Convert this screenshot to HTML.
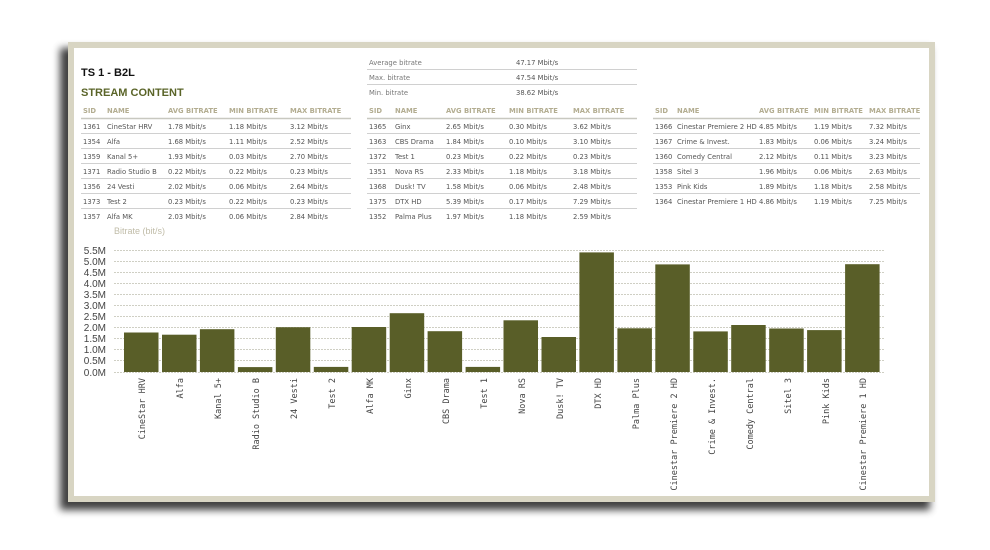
<!DOCTYPE html>
<html><head><meta charset="utf-8"><style>
html,body{margin:0;padding:0;background:#fff;}
svg{display:block;}
.t{font-family:"DejaVu Sans","Liberation Sans",sans-serif;font-size:6.8px;fill:#555;}
.h{font-family:"DejaVu Sans","Liberation Sans",sans-serif;font-size:6.8px;fill:#b3ad91;font-weight:bold;}
.s{font-family:"DejaVu Sans","Liberation Sans",sans-serif;font-size:6.8px;fill:#777;}
.y{font-family:"Liberation Sans",sans-serif;font-size:10px;fill:#444;}
.x{font-family:"DejaVu Sans Mono","Liberation Mono",monospace;font-size:8.5px;fill:#444;}
</style></head><body>
<svg width="990" height="550" viewBox="0 0 990 550" xmlns="http://www.w3.org/2000/svg">
<defs>
<filter id="sh" x="-10%" y="-10%" width="120%" height="130%"><feGaussianBlur stdDeviation="4"/></filter>
</defs>
<rect x="60" y="48" width="870" height="462" fill="#000" opacity="0.75" filter="url(#sh)"/>
<rect x="68" y="42" width="867" height="460" fill="#d8d5c3"/>
<rect x="74" y="48" width="855" height="448" fill="#fff"/>

<text x="81" y="76" font-family="Liberation Sans,sans-serif" font-size="11" font-weight="bold" fill="#111">TS 1 - B2L</text>
<text x="81" y="96" font-family="Liberation Sans,sans-serif" font-size="11" font-weight="bold" fill="#5a6428">STREAM CONTENT</text>

<g stroke="#d0d0d0" stroke-width="1">
<line x1="81" y1="118.5" x2="351" y2="118.5" stroke="#c8c8c0" stroke-width="1.5"/>
<line x1="81" y1="133.5" x2="351" y2="133.5"/><line x1="81" y1="148.5" x2="351" y2="148.5"/><line x1="81" y1="163.5" x2="351" y2="163.5"/><line x1="81" y1="178.5" x2="351" y2="178.5"/><line x1="81" y1="193.5" x2="351" y2="193.5"/><line x1="81" y1="208.5" x2="351" y2="208.5"/>
<line x1="367" y1="69.5" x2="637" y2="69.5"/><line x1="367" y1="84.5" x2="637" y2="84.5"/>
<line x1="367" y1="118.5" x2="637" y2="118.5" stroke="#c8c8c0" stroke-width="1.5"/>
<line x1="367" y1="133.5" x2="637" y2="133.5"/><line x1="367" y1="148.5" x2="637" y2="148.5"/><line x1="367" y1="163.5" x2="637" y2="163.5"/><line x1="367" y1="178.5" x2="637" y2="178.5"/><line x1="367" y1="193.5" x2="637" y2="193.5"/><line x1="367" y1="208.5" x2="637" y2="208.5"/>
<line x1="653" y1="118.5" x2="920" y2="118.5" stroke="#c8c8c0" stroke-width="1.5"/>
<line x1="653" y1="133.5" x2="920" y2="133.5"/><line x1="653" y1="148.5" x2="920" y2="148.5"/><line x1="653" y1="163.5" x2="920" y2="163.5"/><line x1="653" y1="178.5" x2="920" y2="178.5"/><line x1="653" y1="193.5" x2="920" y2="193.5"/>
</g>

<!-- table 1 -->
<g class="h"><text x="83" y="113">SID</text><text x="107" y="113">NAME</text><text x="168" y="113">AVG BITRATE</text><text x="229" y="113">MIN BITRATE</text><text x="290" y="113">MAX BITRATE</text></g>
<g class="t">
<text x="83" y="129">1361</text><text x="107" y="129">CineStar HRV</text><text x="168" y="129">1.78 Mbit/s</text><text x="229" y="129">1.18 Mbit/s</text><text x="290" y="129">3.12 Mbit/s</text>
<text x="83" y="144">1354</text><text x="107" y="144">Alfa</text><text x="168" y="144">1.68 Mbit/s</text><text x="229" y="144">1.11 Mbit/s</text><text x="290" y="144">2.52 Mbit/s</text>
<text x="83" y="159">1359</text><text x="107" y="159">Kanal 5+</text><text x="168" y="159">1.93 Mbit/s</text><text x="229" y="159">0.03 Mbit/s</text><text x="290" y="159">2.70 Mbit/s</text>
<text x="83" y="174">1371</text><text x="107" y="174">Radio Studio B</text><text x="168" y="174">0.22 Mbit/s</text><text x="229" y="174">0.22 Mbit/s</text><text x="290" y="174">0.23 Mbit/s</text>
<text x="83" y="189">1356</text><text x="107" y="189">24 Vesti</text><text x="168" y="189">2.02 Mbit/s</text><text x="229" y="189">0.06 Mbit/s</text><text x="290" y="189">2.64 Mbit/s</text>
<text x="83" y="204">1373</text><text x="107" y="204">Test 2</text><text x="168" y="204">0.23 Mbit/s</text><text x="229" y="204">0.22 Mbit/s</text><text x="290" y="204">0.23 Mbit/s</text>
<text x="83" y="219">1357</text><text x="107" y="219">Alfa MK</text><text x="168" y="219">2.03 Mbit/s</text><text x="229" y="219">0.06 Mbit/s</text><text x="290" y="219">2.84 Mbit/s</text>
</g>

<!-- summary -->
<g class="s"><text x="369" y="65">Average bitrate</text><text x="369" y="80">Max. bitrate</text><text x="369" y="95">Min. bitrate</text></g>
<g class="t"><text x="516" y="65">47.17 Mbit/s</text><text x="516" y="80">47.54 Mbit/s</text><text x="516" y="95">38.62 Mbit/s</text></g>

<!-- table 2 -->
<g class="h"><text x="369" y="113">SID</text><text x="395" y="113">NAME</text><text x="446" y="113">AVG BITRATE</text><text x="509" y="113">MIN BITRATE</text><text x="573" y="113">MAX BITRATE</text></g>
<g class="t">
<text x="369" y="129">1365</text><text x="395" y="129">Ginx</text><text x="446" y="129">2.65 Mbit/s</text><text x="509" y="129">0.30 Mbit/s</text><text x="573" y="129">3.62 Mbit/s</text>
<text x="369" y="144">1363</text><text x="395" y="144">CBS Drama</text><text x="446" y="144">1.84 Mbit/s</text><text x="509" y="144">0.10 Mbit/s</text><text x="573" y="144">3.10 Mbit/s</text>
<text x="369" y="159">1372</text><text x="395" y="159">Test 1</text><text x="446" y="159">0.23 Mbit/s</text><text x="509" y="159">0.22 Mbit/s</text><text x="573" y="159">0.23 Mbit/s</text>
<text x="369" y="174">1351</text><text x="395" y="174">Nova RS</text><text x="446" y="174">2.33 Mbit/s</text><text x="509" y="174">1.18 Mbit/s</text><text x="573" y="174">3.18 Mbit/s</text>
<text x="369" y="189">1368</text><text x="395" y="189">Dusk! TV</text><text x="446" y="189">1.58 Mbit/s</text><text x="509" y="189">0.06 Mbit/s</text><text x="573" y="189">2.48 Mbit/s</text>
<text x="369" y="204">1375</text><text x="395" y="204">DTX HD</text><text x="446" y="204">5.39 Mbit/s</text><text x="509" y="204">0.17 Mbit/s</text><text x="573" y="204">7.29 Mbit/s</text>
<text x="369" y="219">1352</text><text x="395" y="219">Palma Plus</text><text x="446" y="219">1.97 Mbit/s</text><text x="509" y="219">1.18 Mbit/s</text><text x="573" y="219">2.59 Mbit/s</text>
</g>

<!-- table 3 -->
<g class="h"><text x="655" y="113">SID</text><text x="677" y="113">NAME</text><text x="759" y="113">AVG BITRATE</text><text x="814" y="113">MIN BITRATE</text><text x="869" y="113">MAX BITRATE</text></g>
<g class="t">
<text x="655" y="129">1366</text><text x="677" y="129">Cinestar Premiere 2 HD</text><text x="759" y="129">4.85 Mbit/s</text><text x="814" y="129">1.19 Mbit/s</text><text x="869" y="129">7.32 Mbit/s</text>
<text x="655" y="144">1367</text><text x="677" y="144">Crime &amp; Invest.</text><text x="759" y="144">1.83 Mbit/s</text><text x="814" y="144">0.06 Mbit/s</text><text x="869" y="144">3.24 Mbit/s</text>
<text x="655" y="159">1360</text><text x="677" y="159">Comedy Central</text><text x="759" y="159">2.12 Mbit/s</text><text x="814" y="159">0.11 Mbit/s</text><text x="869" y="159">3.23 Mbit/s</text>
<text x="655" y="174">1358</text><text x="677" y="174">Sitel 3</text><text x="759" y="174">1.96 Mbit/s</text><text x="814" y="174">0.06 Mbit/s</text><text x="869" y="174">2.63 Mbit/s</text>
<text x="655" y="189">1353</text><text x="677" y="189">Pink Kids</text><text x="759" y="189">1.89 Mbit/s</text><text x="814" y="189">1.18 Mbit/s</text><text x="869" y="189">2.58 Mbit/s</text>
<text x="655" y="204">1364</text><text x="677" y="204">Cinestar Premiere 1 HD</text><text x="759" y="204">4.86 Mbit/s</text><text x="814" y="204">1.19 Mbit/s</text><text x="869" y="204">7.25 Mbit/s</text>
</g>

<!-- chart -->
<text x="114" y="234" font-family="Liberation Sans,sans-serif" font-size="9" fill="#c0bca8">Bitrate (bit/s)</text>
<g stroke="#cfcfc4" stroke-width="1" stroke-dasharray="2,1">
<line x1="114" y1="250.5" x2="885" y2="250.5"/><line x1="114" y1="261.5" x2="885" y2="261.5"/><line x1="114" y1="272.5" x2="885" y2="272.5"/><line x1="114" y1="283.5" x2="885" y2="283.5"/><line x1="114" y1="294.5" x2="885" y2="294.5"/><line x1="114" y1="305.5" x2="885" y2="305.5"/><line x1="114" y1="316.5" x2="885" y2="316.5"/><line x1="114" y1="327.5" x2="885" y2="327.5"/><line x1="114" y1="338.5" x2="885" y2="338.5"/><line x1="114" y1="349.5" x2="885" y2="349.5"/><line x1="114" y1="360.5" x2="885" y2="360.5"/><line x1="114" y1="372.5" x2="885" y2="372.5"/>
</g>
<g class="y" text-anchor="end">
<text x="106" y="254">5.5M</text><text x="106" y="265">5.0M</text><text x="106" y="276">4.5M</text><text x="106" y="287">4.0M</text><text x="106" y="298">3.5M</text><text x="106" y="309">3.0M</text><text x="106" y="320">2.5M</text><text x="106" y="331">2.0M</text><text x="106" y="342">1.5M</text><text x="106" y="353">1.0M</text><text x="106" y="364">0.5M</text><text x="106" y="376">0.0M</text>
</g>
<g fill="#595e28">
<rect x="124" y="332.5" width="34.5" height="39.5"/>
<rect x="162" y="334.7" width="34.5" height="37.3"/>
<rect x="199.9" y="329.2" width="34.5" height="42.8"/>
<rect x="237.9" y="367.1" width="34.5" height="4.9"/>
<rect x="275.8" y="327.2" width="34.5" height="44.8"/>
<rect x="313.8" y="366.9" width="34.5" height="5.1"/>
<rect x="351.7" y="327" width="34.5" height="45"/>
<rect x="389.7" y="313.2" width="34.5" height="58.8"/>
<rect x="427.6" y="331.2" width="34.5" height="40.8"/>
<rect x="465.6" y="366.9" width="34.5" height="5.1"/>
<rect x="503.5" y="320.3" width="34.5" height="51.7"/>
<rect x="541.5" y="337" width="34.5" height="35"/>
<rect x="579.4" y="252.4" width="34.5" height="119.6"/>
<rect x="617.4" y="328.3" width="34.5" height="43.7"/>
<rect x="655.3" y="264.4" width="34.5" height="107.6"/>
<rect x="693.3" y="331.4" width="34.5" height="40.6"/>
<rect x="731.2" y="325" width="34.5" height="47"/>
<rect x="769.2" y="328.5" width="34.5" height="43.5"/>
<rect x="807.1" y="330.1" width="34.5" height="41.9"/>
<rect x="845.1" y="264.2" width="34.5" height="107.8"/>
</g>
<g class="x" text-anchor="end">
<text transform="translate(145,378) rotate(-90)">CineStar HRV</text>
<text transform="translate(183,378) rotate(-90)">Alfa</text>
<text transform="translate(221,378) rotate(-90)">Kanal 5+</text>
<text transform="translate(259,378) rotate(-90)">Radio Studio B</text>
<text transform="translate(297,378) rotate(-90)">24 Vesti</text>
<text transform="translate(335,378) rotate(-90)">Test 2</text>
<text transform="translate(373,378) rotate(-90)">Alfa MK</text>
<text transform="translate(411,378) rotate(-90)">Ginx</text>
<text transform="translate(449,378) rotate(-90)">CBS Drama</text>
<text transform="translate(487,378) rotate(-90)">Test 1</text>
<text transform="translate(525,378) rotate(-90)">Nova RS</text>
<text transform="translate(563,378) rotate(-90)">Dusk! TV</text>
<text transform="translate(601,378) rotate(-90)">DTX HD</text>
<text transform="translate(639,378) rotate(-90)">Palma Plus</text>
<text transform="translate(677,378) rotate(-90)">Cinestar Premiere 2 HD</text>
<text transform="translate(715,378) rotate(-90)">Crime &amp; Invest.</text>
<text transform="translate(753,378) rotate(-90)">Comedy Central</text>
<text transform="translate(791,378) rotate(-90)">Sitel 3</text>
<text transform="translate(829,378) rotate(-90)">Pink Kids</text>
<text transform="translate(866,378) rotate(-90)">Cinestar Premiere 1 HD</text>
</g>
</svg>
</body></html>
